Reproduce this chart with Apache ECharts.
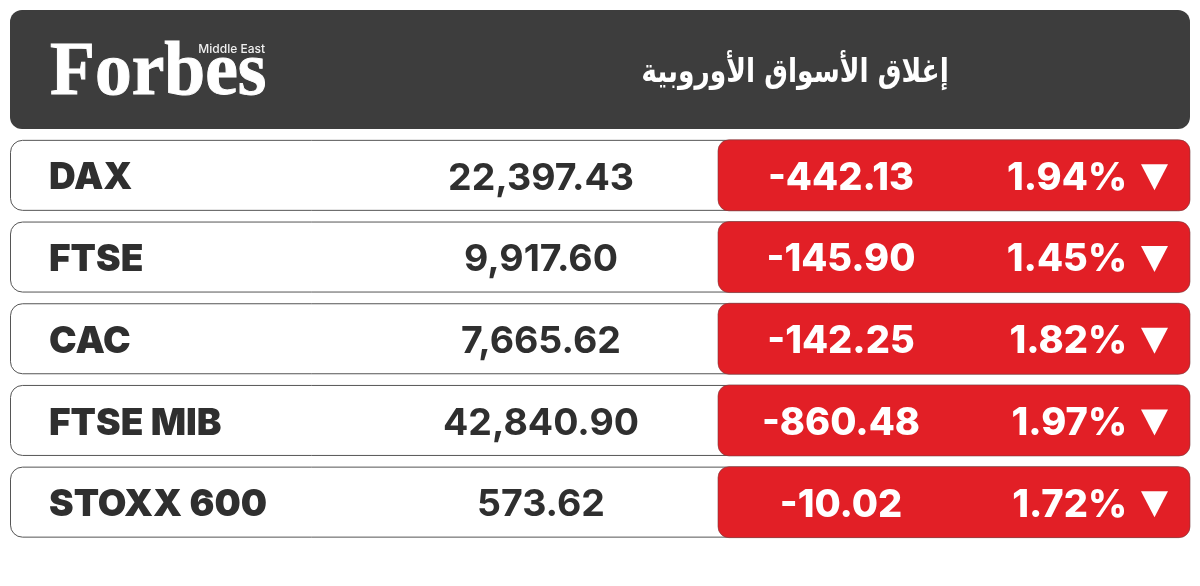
<!DOCTYPE html>
<html>
<head>
<meta charset="utf-8">
<style>html,body{margin:0;padding:0;background:#fff}#main{width:1200px;height:586px}</style>
<script src="https://cdn.jsdelivr.net/npm/echarts@6/dist/echarts.min.js"></script>
</head>
<body>
<div id="main"></div>
<script>
var indexNames = ['DAX', 'FTSE', 'CAC', 'FTSE MIB', 'STOXX 600'];
var closeLabels = ['22,397.43', '9,917.60', '7,665.62', '42,840.90', '573.62'];
var changeLabels = ['-442.13', '-145.90', '-142.25', '-860.48', '-10.02'];
var percentLabels = ['1.94%', '1.45%', '1.82%', '1.97%', '1.72%'];
var titleText = 'إغلاق الأسواق الأوروبية';

var myChart = echarts.init(document.getElementById('main'), null, {renderer: 'canvas'});
var latin = 'Inter, "Liberation Sans", sans-serif';
var dark = '#2f2f2f', red = '#e21f26';

function rowItem(params, api) {
    var i = api.value(0);
    var cy = api.coord([0, i])[1];
    var h = 71, top = cy - h / 2;
    var x0 = api.coord([10, i])[0], x1 = api.coord([1190, i])[0], xr = api.coord([718, i])[0];
    function label(text, x, align, size, weight, color) {
        return {
            type: 'text',
            style: {
                text: text, x: x, y: cy + 3, align: align, verticalAlign: 'middle',
                font: weight + ' ' + size + 'px ' + latin, fill: color
            }
        };
    }
    return {
        type: 'group',
        children: [
            {type: 'rect', shape: {x: x0 + .5, y: top + .5, width: x1 - x0 - 1, height: h - 1, r: 12},
                style: {fill: '#fff', stroke: '#555', lineWidth: 1}},
            {type: 'rect', shape: {x: xr, y: top, width: x1 - xr, height: h, r: 11},
                style: {fill: red, stroke: '#7a3a3c', lineWidth: .6}},
            label(indexNames[i], 49, 'left', 37, 900, dark),
            label(closeLabels[i], 541, 'center', 37.5, 700, dark),
            label(changeLabels[i], 841, 'center', 38, 800, '#fff'),
            label(percentLabels[i], 1127, 'right', 38, 800, '#fff'),
            {type: 'polygon', shape: {points: [[1141, cy - 11], [1168, cy - 11], [1154.5, cy + 15]]},
                style: {fill: '#fff'}}
        ]
    };
}

myChart.setOption({
    animation: false,
    backgroundColor: '#fff',
    grid: {left: 0, right: 0, top: 134.5, height: 408.5},
    xAxis: {type: 'value', min: 0, max: 1200, show: false},
    yAxis: {type: 'category', inverse: true, data: indexNames, show: false},
    graphic: [
        {type: 'rect', shape: {x: 10, y: 10, width: 1180, height: 119, r: 12}, style: {fill: '#3d3d3d'}, z: 1},
        {type: 'text', x: 50, y: 113, scaleX: 0.955, scaleY: 1.0, z: 2, style: {
            text: 'Forbes', font: 'bold 77px "Liberation Serif", serif', fill: '#fff', stroke: '#fff', lineWidth: 1, verticalAlign: 'bottom'}},
        {type: 'text', x: 265, y: 49, z: 3, style: {
            text: 'Middle East', font: '500 12px Inter, sans-serif', fill: '#f0f0f0', align: 'right', verticalAlign: 'middle'}},
        {type: 'text', x: 795, y: 73, scaleY: 1.25, z: 2, style: {
            text: titleText, font: 'bold 26.5px "DejaVu Sans", sans-serif', fill: '#fff', align: 'center', verticalAlign: 'middle'}}
    ],
    series: [{
        type: 'custom',
        coordinateSystem: 'cartesian2d',
        renderItem: rowItem,
        encode: {x: 1, y: 0},
        data: indexNames.map(function (name, i) { return [i, 0]; })
    }]
});
</script>
</body>
</html>
